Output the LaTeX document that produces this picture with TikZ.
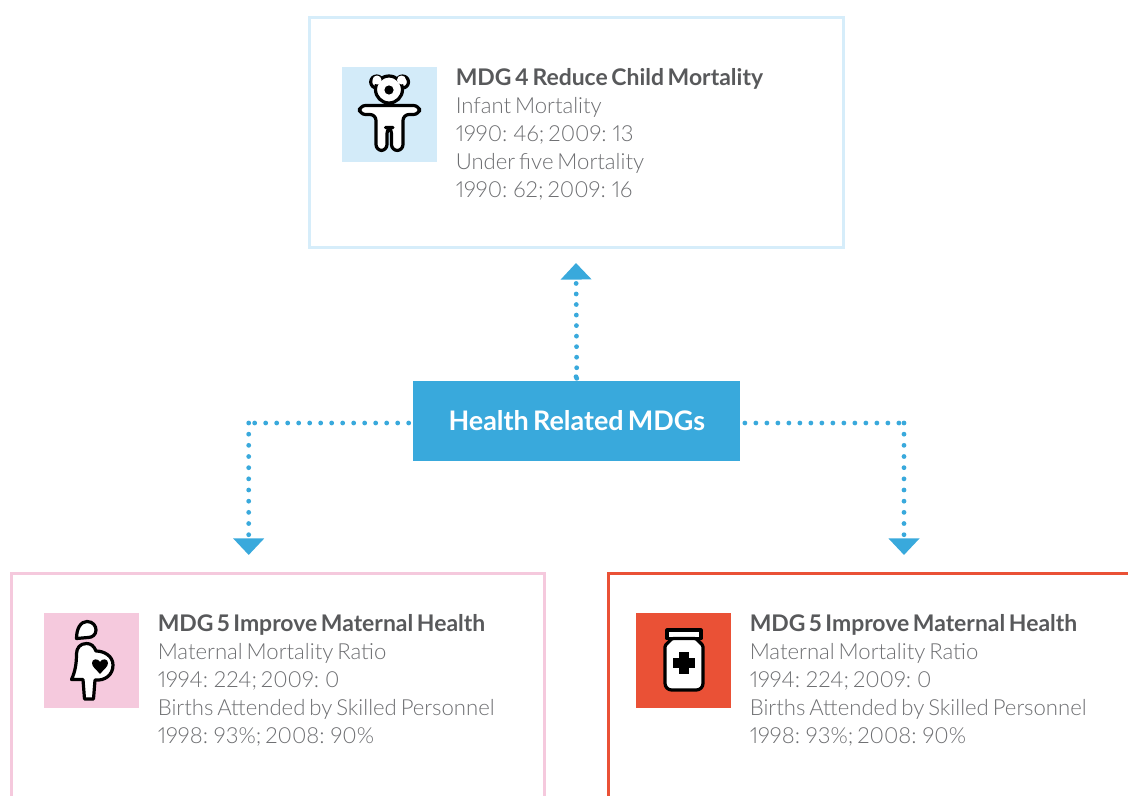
\documentclass[tikz,border=0pt]{standalone}
\usepackage{fontspec}
\setmainfont{Lato}[UprightFont=* Light,BoldFont=* Bold,Numbers=Proportional,WordSpace=0.65]
\usetikzlibrary{arrows.meta}
\definecolor{hubblue}{HTML}{39A9DC}
\definecolor{paleblue}{HTML}{D3EBF9}
\definecolor{boxblue}{HTML}{D6EDFA}
\definecolor{pinkc}{HTML}{F5C9DD}
\definecolor{redc}{HTML}{EA5136}
\definecolor{titlegrey}{HTML}{58595B}
\definecolor{bodygrey}{HTML}{6D6E71}
\tikzset{
  x=0.75pt,y=-0.75pt,
  frame/.style={line width=2.25pt},
  panel/.style={draw=#1,frame,minimum width=400.5pt,minimum height=172.5pt,inner sep=0pt,anchor=north west},
  swatch/.style={fill=#1,minimum size=71.25pt,inner sep=0pt,anchor=north west},
  hubbox/.style={fill=hubblue,text=white,minimum width=245.25pt,minimum height=60pt,inner sep=0pt,anchor=north west,font=\fontsize{20.2}{24}\selectfont\bfseries},
  blurb/.style={anchor=north west,inner sep=0pt,align=left,text=bodygrey,font=\fontsize{16.6}{21}\selectfont},
  dotline/.style={draw=hubblue,line width=3.6pt,line cap=round,dash pattern=on 0pt off #1*0.75pt},
  tipstart/.style={{Triangle[width=22.5pt,length=12.4pt,fill=hubblue]}-},
  tipend/.style={-{Triangle[width=22.5pt,length=12.4pt,fill=hubblue]}},
  icon/.style={draw=black,fill=white,line width=2.4pt,line join=round},
}
\newcommand{\mdgtext}[5]{{\color{titlegrey}\fontsize{17.2}{21}\selectfont\bfseries #1}\\#2\\#3\\#4\\#5}
\begin{document}
\begin{tikzpicture}
\useasboundingbox (0,0) rectangle (1128,796);
% panels
\node[panel=boxblue] (top) at (308,16) {};
\coordinate (lbl) at (11,796);
\coordinate (lbr) at (544.5,796);
\coordinate (ltop) at (11,573);
\coordinate (rbl) at (608,796);
\coordinate (rtr) at (1128,573);
\draw[frame,draw=pinkc] (lbl) -- (ltop) -| (lbr);
\draw[frame,draw=redc] (rbl) |- (rtr);
% hub
\node[hubbox] (hub) at (413,381) {\raisebox{0.75pt}{Health Related MDGs}};
% swatches
\node[swatch=paleblue] (sa) at (342,67) {};
\node[swatch=pinkc] (sb) at (44,613) {};
\node[swatch=redc] (sc) at (636,613) {};
% texts
\node[blurb] (ta) at (455.5,68.5) {\mdgtext{MDG 4 Reduce Child Mortality}{Infant Mortality}{1990: 46; 2009: 13}{Under five Mortality}{1990: 62; 2009: 16}};
\node[blurb] (tb) at (157.5,614.5) {\mdgtext{MDG 5 Improve Maternal Health}{Maternal Mortality Ratio}{1994: 224; 2009: 0}{Births Attended by Skilled Personnel}{1998: 93\%; 2008: 90\%}};
\node[blurb] (tc) at (749.5,614.5) {\mdgtext{MDG 5 Improve Maternal Health}{Maternal Mortality Ratio}{1994: 224; 2009: 0}{Births Attended by Skilled Personnel}{1998: 93\%; 2008: 90\%}};
% connectors
\coordinate (tiptop) at (576,263);
\coordinate (cl) at (248.7,423);
\coordinate (cr) at (904,423);
\coordinate (tipl) at (248.7,555);
\coordinate (tipr) at (904,555);
\draw[dotline=10.54,tipstart,dash phase=4.2pt] (tiptop) -- (hub.north);
\draw[dotline=100] (576,376.7) -- (hub.north);
\draw[dotline=11,dash phase=5pt] (hub.west |- cl) -- (cl);
\draw[dotline=11.17,tipend] (cl) -- (tipl);
\draw[dotline=11,dash phase=5pt] (hub.east |- cr) -- (cr);
\draw[dotline=11.17,tipend] (cr) -- (tipr);
% child icon
\draw[icon] (376.7,82) circle (6);
\draw[icon] (402.5,82) circle (6);
\draw[icon] (389,89.5) circle (13.5);
\fill[white] (377,80) circle (4.5) (401.5,80) circle (4.5);
\fill[black] (389,90) circle (4.6);
\draw[icon,rounded corners=4.5] (359.5,105.5) -- (419.5,105.5) -- (419.5,114.5) -- (403,114.5) -- (403,150.5) -- (391.5,150.5) -- (391.5,127.5) -- (387,127.5) -- (387,150.5) -- (376,150.5) -- (376,114.5) -- (359.5,114.5) -- cycle;
% mother icon
\draw[icon] (76.5,638.5) .. controls (76.5,628) and (81,621.5) .. (87,621.5)
  .. controls (93,621.5) and (96,626) .. (96,630)
  .. controls (96,635) and (92,637.5) .. (88,637.5) -- cycle;
\draw[icon] (86.5,643.5) .. controls (80,643.5) and (76.5,648) .. (76.5,654)
  .. controls (76.5,664) and (75,672) .. (71.5,679.5)
  -- (83,679.5) -- (84.5,699) -- (93.5,699) -- (95,680)
  .. controls (105,681) and (113,675) .. (113,665)
  .. controls (113,656) and (104,651) .. (96,651)
  .. controls (94,646) and (91,643.5) .. (86.5,643.5) -- cycle;
\fill[black] (100,674) .. controls (96,669) and (92,667) .. (92,663)
  .. controls (92,658.5) and (98,658) .. (100,662)
  .. controls (102,658) and (108,658.5) .. (108,663)
  .. controls (108,667) and (104,669) .. (100,674) -- cycle;
% bottle icon
\draw[icon] (667,630) rectangle (701,638.5);
\draw[icon,rounded corners=1] (672,638.5) -- (696,638.5) -- (703,645.5) [rounded corners=5] -- (703,690) -- (665,690) [rounded corners=1] -- (665,645.5) -- cycle;
\fill[black] (679.3,651.8) rectangle (688.7,673.8);
\fill[black] (673,658) rectangle (695,667.5);
\end{tikzpicture}
\end{document}
